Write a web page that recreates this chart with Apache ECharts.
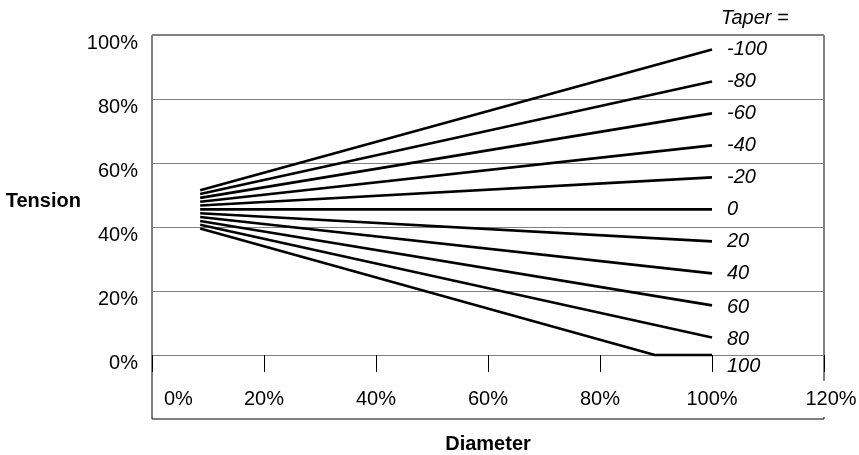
<!DOCTYPE html>
<html>
<head>
<meta charset="utf-8">
<script src="https://cdn.jsdelivr.net/npm/echarts@6/dist/echarts.min.js"></script>
<style>html,body{margin:0;padding:0;background:#fff}#c{width:859px;height:455px}</style>
</head>
<body>
<div id="c"></div>
<script>
// Series names (taper values)
const tapers = ['-100', '-80', '-60', '-40', '-20', '0', '20', '40', '60', '80', '100'];
// Diameter (%) where lines start and end
const startDiameter = 8.6;
const endDiameter = 100;
// Tension (%) read at start and end diameter
const startTension = [51.5, 50.3, 49.1, 47.9, 46.7, 45.5, 44.3, 43.1, 41.9, 40.7, 39.5];
const endTension = [95.5, 85.5, 75.5, 65.5, 55.5, 45.5, 35.5, 25.5, 15.5, 5.5, 0];
// Extra point where the taper=100 line reaches 0 tension
const floorPoint = { taper: '100', diameter: 89.8, tension: 0 };
// Axis ticks
const xTicks = [0, 20, 40, 60, 80, 100, 120];
const yTicks = [-20, 0, 20, 40, 60, 80, 100];

const FONT = '"Liberation Sans", Arial, sans-serif';

const series = tapers.map((t, i) => {
  const data = [[startDiameter, startTension[i]]];
  if (t === floorPoint.taper) data.push([floorPoint.diameter, floorPoint.tension]);
  data.push([endDiameter, endTension[i]]);
  return {
    name: t,
    type: 'line',
    data: data,
    symbol: 'none',
    lineStyle: { color: '#000', width: 2.6 },
    endLabel: {
      show: true,
      formatter: '{a}',
      color: '#000',
      fontSize: 20,
      fontStyle: 'italic',
      fontFamily: FONT,
      distance: 15,
      offset: t === '100' ? [0, 11] : (t === '80' || t === '60' ? [0, 2] : [0, 0])
    },
    z: 3
  };
});

const chart = echarts.init(document.getElementById('c'), null, { renderer: 'canvas' });
chart.setOption({
  animation: false,
  backgroundColor: '#fff',
  title: {
    text: 'Taper =',
    left: 721,
    top: 8,
    padding: 0,
    textStyle: { fontSize: 20, fontStyle: 'italic', fontWeight: 'normal', fontFamily: FONT, color: '#000' }
  },
  grid: {
    left: 152, right: 35, top: 35, bottom: 36,
    outerBoundsMode: 'none',
    show: true, borderColor: '#000', borderWidth: 1, backgroundColor: 'transparent'
  },
  xAxis: {
    type: 'value',
    min: xTicks[0], max: xTicks[xTicks.length - 1], interval: 20,
    name: 'Diameter',
    nameLocation: 'middle',
    nameGap: 15,
    nameMoveOverlap: false,
    nameTextStyle: { fontSize: 20, fontWeight: 'bold', fontFamily: FONT, color: '#000' },
    axisLine: { show: true, onZero: true, lineStyle: { color: '#808080', width: 1 } },
    axisTick: { show: true, length: 17, lineStyle: { color: '#000', width: 1 } },
    splitLine: { show: false },
    axisLabel: {
      margin: -20,
      verticalAlign: 'middle',
      color: '#000',
      fontSize: 20,
      fontFamily: FONT,
      alignMinLabel: 'left',
      formatter: function (v) {
        if (v === xTicks[0]) return '{first|' + v + '%}';
        if (v === xTicks[xTicks.length - 1]) return '{last|' + v + '%}';
        return v + '%';
      },
      rich: {
        first: { fontSize: 20, fontFamily: FONT, color: '#000', padding: [0, 0, 0, 12] },
        last: { fontSize: 20, fontFamily: FONT, color: '#000', padding: [8, 0, 8, 14], backgroundColor: '#fff' }
      }
    }
  },
  yAxis: {
    type: 'value',
    min: yTicks[0], max: yTicks[yTicks.length - 1], interval: 20,
    name: '{t|Tension}',
    nameLocation: 'middle',
    nameRotate: 0,
    nameGap: 60,
    nameTextStyle: {
      fontSize: 20, fontWeight: 'bold', fontFamily: FONT, color: '#000',
      rich: { t: { fontSize: 20, fontWeight: 'bold', fontFamily: FONT, color: '#000', padding: [0, 0, 51, 0] } }
    },
    axisLine: { show: false },
    axisTick: { show: false },
    splitLine: { show: true, lineStyle: { color: '#808080', width: 1 } },
    axisLabel: {
      margin: 14,
      color: '#000',
      fontSize: 20,
      fontFamily: FONT,
      verticalAlign: 'top',
      lineHeight: 16,
      formatter: function (v) { return v < 0 ? '' : v + '%'; }
    }
  },
  series: series
});
</script>
</body>
</html>
